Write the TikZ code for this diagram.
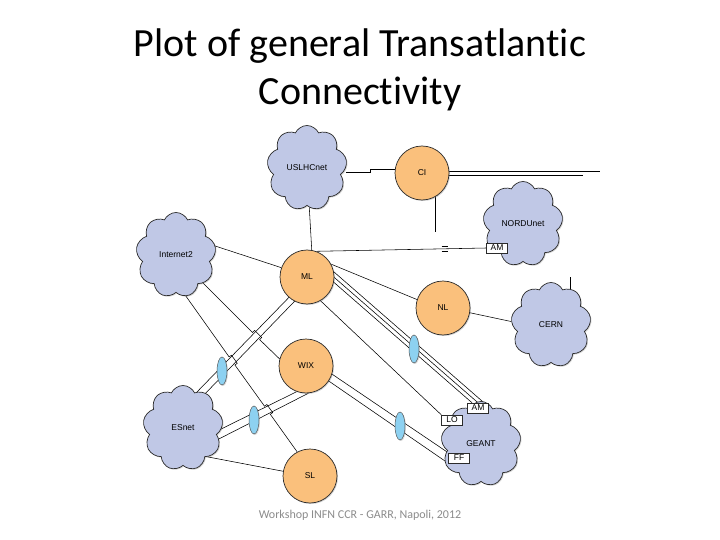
\documentclass[tikz,border=0pt]{standalone}
\usepackage{fontspec}
\setmainfont{Carlito}[RawFeature=-liga]
\newfontfamily\netfont{Liberation Sans}
\usetikzlibrary{shapes.symbols, shapes.geometric, shadows, calc}
\definecolor{cloud-fill}{HTML}{C0C8E6}
\definecolor{router-fill}{HTML}{FAC07C}
\definecolor{lambda-fill}{HTML}{8DD1F1}
\definecolor{outline}{HTML}{2B2B2B}
\definecolor{footer-grey}{HTML}{8C8C8C}
\newcommand{\netlabel}{\netfont\fontsize{8.5}{10}\selectfont}
\pgfdeclarelayer{paper}
\pgfdeclarelayer{links}
\pgfsetlayers{paper,links,main}
\tikzset{
  net/.style={
    cloud, cloud puffs=9, cloud puff arc=130, aspect=0.92, draw=outline,
    line width=0.7pt, fill=cloud-fill, minimum width=80pt, minimum height=85pt,
    inner sep=0pt, font=\netlabel,
    drop shadow={shadow xshift=1pt, shadow yshift=-1pt, opacity=0.35}
  },
  router/.style={
    circle, draw=outline, line width=0.7pt, fill=router-fill, minimum size=54pt,
    inner sep=0pt, font=\netlabel,
    drop shadow={shadow xshift=1pt, shadow yshift=-1pt, opacity=0.35}
  },
  lambda/.style={
    ellipse, draw=outline!80, line width=0.5pt, fill=lambda-fill,
    minimum width=10pt, minimum height=28pt, inner sep=0pt,
    drop shadow={shadow xshift=1pt, shadow yshift=-1pt, opacity=0.3}
  },
  tag/.style={
    rectangle, draw=outline, line width=0.5pt, fill=white, minimum width=21pt,
    minimum height=10pt, inner sep=1pt, font=\netlabel
  },
  link/.style={draw=black, line width=0.55pt},
  slide-title/.style={font=\fontsize{40}{48}\selectfont, anchor=base},
  slide-footer/.style={font=\fontsize{12}{14}\selectfont, text=footer-grey, anchor=base}
}

\begin{document}
\begin{tikzpicture}[x=1pt, y=-1pt]
  \useasboundingbox (0,0) rectangle (720,540);
  \begin{pgfonlayer}{paper}
    \fill[white] (0,0) rectangle (720,540);
  \end{pgfonlayer}

  % ---- Title and footer ----------------------------------------------------
  \node[slide-title] (title1) at (360,57) {Plot of general Transatlantic};
  \node[slide-title] (title2) at (360,105) {Connectivity};
  \node[slide-footer] (footer) at (360,518) {Workshop INFN CCR - GARR, Napoli, 2012};

  % ---- Networks --------------------------------------------------------------
  \node[net] (uslhc) at (307,168) {USLHCnet};
  \node[net] (nordu) at (523,224) {NORDUnet};
  \node[net] (inet)  at (176,255) {Internet2};
  \node[net] (cern)  at (551,325) {CERN};
  \node[net] (esnet) at (183,428) {ESnet};
  \node[net] (geant) at (481,444) {GEANT};

  % ---- Access points on the European side ------------------------------------
  \node[tag] (nam) at (497,248) {AM};
  \node[tag] (gam) at (478,408) {AM};
  \node[tag] (lo)  at (452,420) {LO};
  \node[tag] (ff)  at (459,458) {FF};

  % ---- Exchange points ---------------------------------------------------------
  \node[router] (ci)  at (422,173) {CI};
  \node[router] (ml)  at (307,277) {ML};
  \node[router] (nl)  at (443,308) {NL};
  \node[router] (wix) at (306,366) {WIX};
  \node[router] (sl)  at (310,476) {SL};

  % ---- Wavelength bundles ----------------------------------------------------
  \node[lambda] (lam1) at (222,371) {};
  \node[lambda] (lam2) at (254,420) {};
  \node[lambda] (lam3) at (414,349) {};
  \node[lambda] (lam4) at (400,426) {};

  % ---- Loose ends ------------------------------------------------------------
  \coordinate (ciouta) at (600,171);
  \coordinate (cioutb) at (583,175);
  \coordinate (cistub) at (435,232);
  \coordinate (cernstub) at (570,277);

  \begin{pgfonlayer}{links}
    % top row
    \draw[link] ([yshift=-4pt]uslhc.east) -- ++(24,0) |- ([yshift=4pt]ci.west);
    \draw[link] (ciouta -| ci) -- (ciouta);
    \draw[link] (cioutb -| ci) -- (cioutb);
    \draw[link] (cistub |- ci) -- (cistub);
    \draw[link] (uslhc) -- (ml.80);
    \draw[link] (ml.70) -- coordinate[pos=0.755] (gap) (nam.west);
    \draw[link] ($(gap)+(-3,-2.4)$) -- ++(6,0);
    \draw[link] ($(gap)+(-3,2.4)$) -- ++(6,0);
    \draw[link] ($(inet)+(30,-12)$) -- (ml.160);
    \draw[link] (ml.28) -- (nl.162);
    \draw[link] (nl.-10) -- (cern.175);
    \draw[link] (cernstub) -- (cernstub |- cern);

    % ML and WIX towards GEANT
    \foreach \k in {-6,0,6}
      \draw[link] ($(ml)+(13+\k,-12)$) -- ($(gam.north)+(\k,0)$);
    \draw[link] ($(ml)+(0,11)$) -- (lo.north west);
    \draw[link] ($(wix)+(14,0)$) -- (ff.north west);
    \draw[link] ($(wix)+(14,9)$) -- (ff.south west);

    % ML and WIX towards ESnet
    \draw[link] ($(ml)+(-7,9)$) -- ($(esnet)+(12,-34)$);
    \draw[link] ($(ml)+(-2,13.5)$) -- ($(esnet)+(17,-29)$);
    \draw[link] (wix.-110) -- ($(esnet)+(27,6.5)$);
    \draw[link] (wix.-85) -- ($(esnet)+(27,15.5)$);

    % Internet2 and ESnet, hopping over the bundles
    \draw[link] ($(inet)+(20,21)$) -- (252.5,332.5) -- ++(2.1,-2.1)
      -- ++(7.1,7.1) -- ++(-2.1,2.1) -- (wix.165);
    \draw[link] ($(inet)+(2,30)$) -- (229.1,356.9) -- ++(2.4,-1.7)
      -- ++(5.8,8.1) -- ++(-2.4,1.7) -- (264.5,406.2) -- ++(2.4,-1.7)
      -- ++(5.8,8.1) -- ++(-2.4,1.7) -- (sl.118);
    \draw[link] ($(esnet)+(20,28)$) -- (sl.170);
  \end{pgfonlayer}
\end{tikzpicture}
\end{document}
